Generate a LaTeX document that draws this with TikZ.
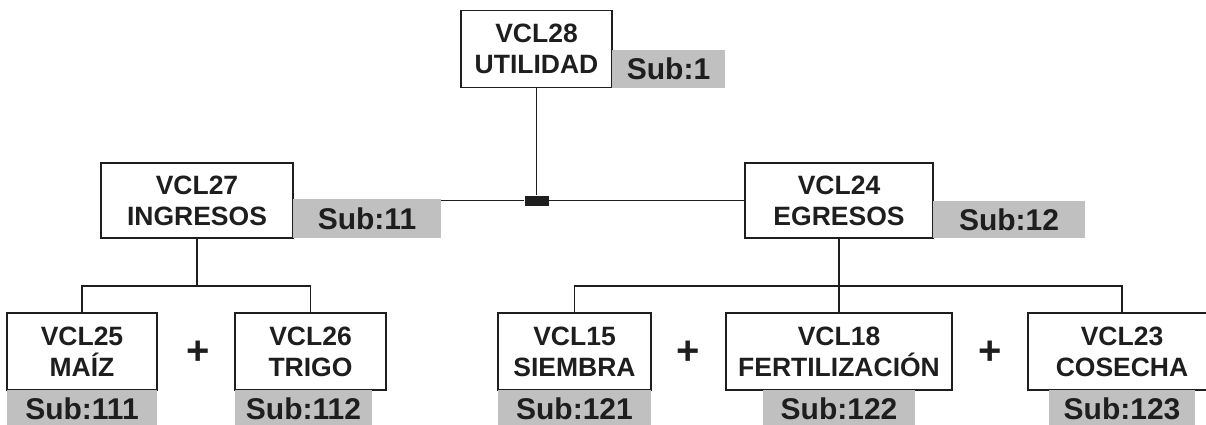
\documentclass[tikz,border=0pt]{standalone}
\usepackage{fontspec}
\setmainfont{Liberation Sans}
\usetikzlibrary{positioning}
\definecolor{subgray}{RGB}{192,192,192}
\definecolor{inkgray}{RGB}{30,30,30}
\tikzset{
  varbox/.style={draw=inkgray, line width=1.6pt, fill=white, align=center,
    inner sep=0pt, outer sep=0pt, minimum height=77pt, text=inkgray,
    font=\bfseries\fontsize{26.5}{31}\selectfont},
  subtag/.style={fill=subgray, inner sep=0pt, outer sep=0pt, minimum height=38pt,
    text=inkgray, font=\bfseries\fontsize{30}{30}\selectfont},
  plussign/.style={text=inkgray, font=\bfseries\fontsize{40}{40}\selectfont},
  link/.style={draw=inkgray, line width=1.6pt},
}
\begin{document}
\begin{tikzpicture}[x=1pt,y=-1pt]
        \clip (0,0) rectangle (1206,424);
        % Nivel 1
        \node[varbox, minimum width=151pt] (u28) at (536.5,49) {VCL28\\UTILIDAD};
        \node[subtag, minimum width=113pt, anchor=south west] (s1) at (u28.south east) {Sub:1};
        % Nivel 2
        \node[varbox, minimum width=192pt, minimum height=75pt] (i27) at (197,200.5) {VCL27\\INGRESOS};
        \node[subtag, minimum width=148pt, minimum height=39pt, anchor=south west] (s11) at (i27.south east) {Sub:11};
        \node[varbox, minimum width=188pt, minimum height=75pt] (e24) at (839,200.5) {VCL24\\EGRESOS};
        \node[subtag, minimum width=152pt, minimum height=37pt, anchor=south west] (s12) at (e24.south east) {Sub:12};
        \node[fill=inkgray, minimum width=24pt, minimum height=10pt, inner sep=0pt] (junc) at (536.5,200.5) {};
        % Nivel 3
        \node[varbox, minimum width=150pt] (m25) at (82,351.5) {VCL25\\MAÍZ};
        \node[varbox, minimum width=151pt] (t26) at (310.5,351.5) {VCL26\\TRIGO};
        \node[varbox, minimum width=153pt] (s15) at (574.5,351.5) {VCL15\\SIEMBRA};
        \node[varbox, minimum width=226pt] (f18) at (839,351.5) {VCL18\\FERTILIZACIÓN};
        \node[varbox, minimum width=188pt] (c23) at (1122,351.5) {VCL23\\COSECHA};
        \node[subtag, minimum width=150pt, anchor=north] (s111) at (m25.south) {Sub:111};
        \node[subtag, minimum width=137pt, anchor=north, xshift=-7pt] (s112) at (t26.south) {Sub:112};
        \node[subtag, minimum width=153pt, anchor=north] (s121) at (s15.south) {Sub:121};
        \node[subtag, minimum width=152pt, anchor=north] (s122) at (f18.south) {Sub:122};
        \node[subtag, minimum width=146pt, anchor=north] (s123) at (c23.south) {Sub:123};
        \node[plussign] (p1) at (198,353) {+};
        \node[plussign] (p2) at (688,353) {+};
        \node[plussign] (p3) at (990,353) {+};
        % conexiones
        \coordinate (lbus) at (197,286);
        \coordinate (rbus) at (839,286);
        \draw[link] (u28.south) -- (junc.north);
        \draw[link] (junc.west) -- (junc.west -| s11.east);
        \draw[link] (junc.east) -- (e24.west);
        \draw[link] (i27.south) -- (lbus);
        \draw[link] (m25.north) |- (lbus) -| (t26.north);
        \draw[link] (e24.south) -- (f18.north);
        \draw[link] (s15.north) |- (rbus) -| (c23.north);
    \end{tikzpicture}
\end{document}
